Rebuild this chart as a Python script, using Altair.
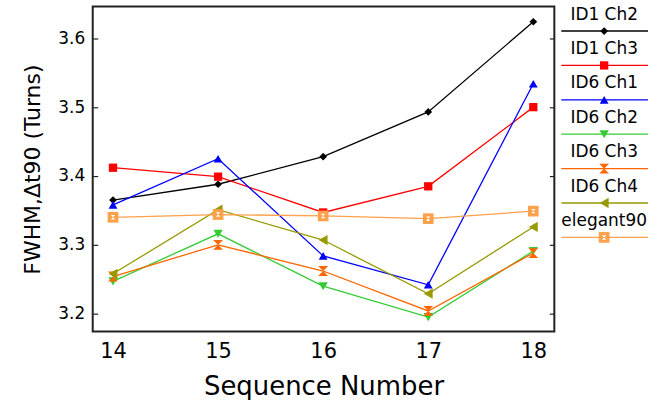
import altair as alt
import pandas as pd

seq = [14, 15, 16, 17, 18]
series = ["ID1  Ch2", "ID1  Ch3", "ID6  Ch1", "ID6  Ch2", "ID6  Ch3", "ID6  Ch4", "elegant90"]
id1_ch2 = [3.365, 3.388, 3.428, 3.493, 3.624]
id1_ch3 = [3.412, 3.399, 3.347, 3.385, 3.500]
id6_ch1 = [3.358, 3.425, 3.284, 3.242, 3.534]
id6_ch2 = [3.247, 3.316, 3.240, 3.195, 3.291]
id6_ch3 = [3.254, 3.300, 3.262, 3.204, 3.288]
id6_ch4 = [3.258, 3.351, 3.307, 3.229, 3.326]
elegant90 = [3.340, 3.344, 3.342, 3.338, 3.349]
y_ticks = [3.2, 3.3, 3.4, 3.5, 3.6]

all_vals = [id1_ch2, id1_ch3, id6_ch1, id6_ch2, id6_ch3, id6_ch4, elegant90]
rows = []
for name, vals in zip(series, all_vals):
    for s, v in zip(seq, vals):
        rows.append({"series": name, "seq": s, "val": v})
df = pd.DataFrame(rows)
leg = pd.DataFrame({"series": series, "idx": list(range(len(series)))})

HOUR = "M-1,-1L1,-1L-1,1L1,1Z"
colors = ["#000000", "#ff0000", "#0000ff", "#33cc33", "#ff6600", "#999900", "#ffa04a"]
shapes = ["diamond", "square", "triangle-up", "triangle-down", HOUR, "triangle-left", "square"]
sizes = [60, 115, 180, 180, 90, 160, 95]

FONT = "DejaVu Sans"
color = alt.Color("series:N", scale=alt.Scale(domain=series, range=colors), legend=None)
shape = alt.Shape("series:N", scale=alt.Scale(domain=series, range=shapes), legend=None)
size = alt.Size("series:N", scale=alt.Scale(domain=series, range=sizes), legend=None)

xs = alt.Scale(domain=[13.807, 18.2], nice=False, zero=False)
ys = alt.Scale(domain=[3.174, 3.646], nice=False, zero=False)

x_enc = alt.X("seq:Q", scale=xs, axis=alt.Axis(
    values=seq, format="d", ticks=False, domain=False, grid=False, labelPadding=9,
    labelFontSize=21, labelFont=FONT, labelColor="#000", title="Sequence Number",
    titleFont=FONT, titleFontSize=26, titleFontWeight="normal", titleColor="#000",
    titlePadding=12))

base = alt.Chart(df)
lines = base.mark_line(strokeWidth=1.3).encode(
    x=x_enc,
    y=alt.Y("val:Q", scale=ys, axis=alt.Axis(
        values=y_ticks, format=".1f", orient="left", offset=-5, tickSize=5, ticks=True,
        tickColor="#222", tickWidth=1.2, domain=False, grid=False, labelPadding=8,
        labelFontSize=17, labelFont=FONT, labelColor="#000",
        title="FWHM,\u0394t90 (Turns)", titleFont=FONT, titleFontSize=22,
        titleFontWeight="normal", titleColor="#000", titlePadding=13)),
    color=color, detail="series:N")
points = base.mark_point(filled=True, opacity=1).encode(
    x=x_enc,
    y=alt.Y("val:Q", scale=ys, axis=alt.Axis(
        values=y_ticks, orient="right", offset=-5, tickSize=5, ticks=True, labels=False,
        tickColor="#222", tickWidth=1.2, domain=False, grid=False, title=None)),
    color=color, shape=shape, size=size)
inner = base.transform_filter(alt.datum.series == "elegant90").mark_point(
    filled=True, opacity=1, color="white").encode(
    x=x_enc,
    y=alt.Y("val:Q", scale=ys, axis=None),
    shape=alt.value(HOUR), size=alt.value(20))

main = alt.layer(lines, points, inner).resolve_scale(y="independent").properties(
    width=463, height=326, view=alt.ViewBackground(stroke="#222", strokeWidth=2))

ly = alt.Y("idx:Q", scale=alt.Scale(domain=[0, 6], range=[8, 215]), axis=None)
lb = alt.Chart(leg)
ltext = lb.mark_text(align="center", baseline="middle", fontSize=17, font=FONT, color="#000").encode(
    x=alt.value(44), y=ly, text="series:N")
lrule = lb.mark_rule(yOffset=16.5, strokeWidth=1.3).encode(
    x=alt.value(1), x2=alt.value(88), y=ly, color=color)
lpts = lb.mark_point(filled=True, opacity=1, yOffset=16.5).encode(
    x=alt.value(44), y=ly, color=color, shape=shape, size=size)
linner = lb.transform_filter(alt.datum.series == "elegant90").mark_point(
    filled=True, opacity=1, color="white", yOffset=16.5).encode(
    x=alt.value(44), y=ly, shape=alt.value(HOUR), size=alt.value(20))
legend = alt.layer(ltext, lrule, lpts, linner).properties(
    width=95, height=326, view=alt.ViewBackground(stroke="transparent", strokeWidth=0))

chart = alt.hconcat(main, legend, spacing=4).properties(
    padding={"left": 20, "top": 5, "right": 5, "bottom": 5},
    background="white")

chart.save("out.html", embed_options={"renderer": "svg", "actions": False})
